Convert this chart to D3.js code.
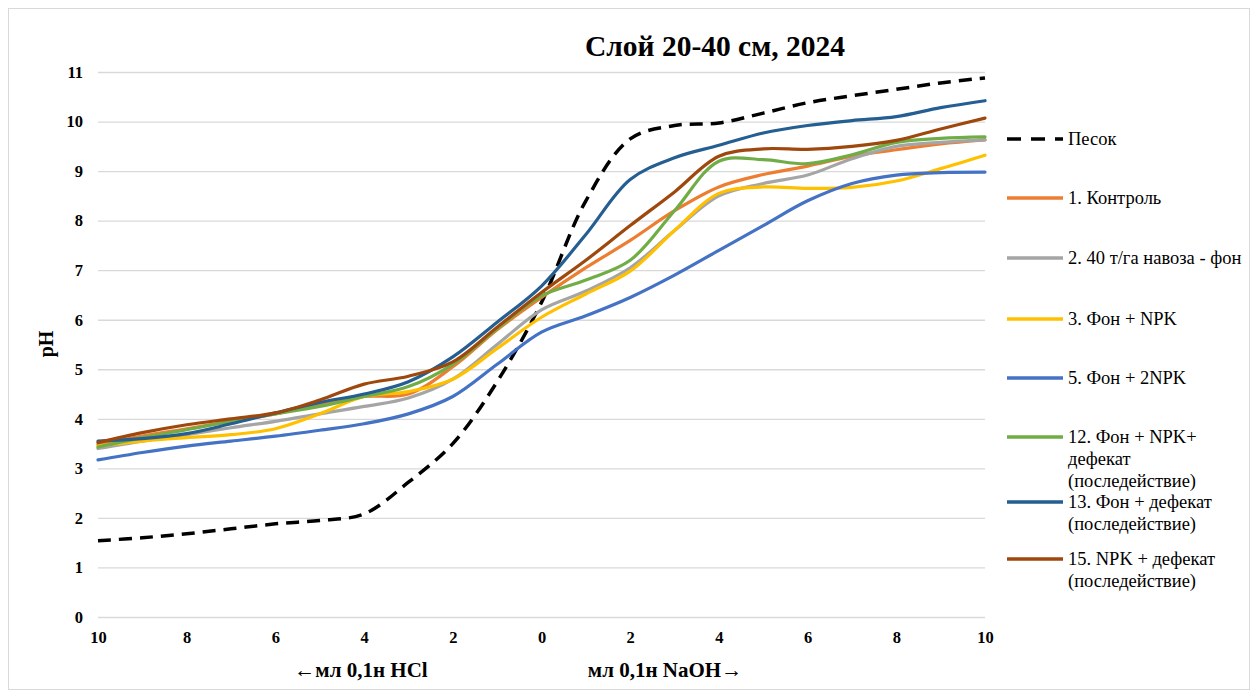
<!DOCTYPE html>
<html><head><meta charset="utf-8">
<script src="https://cdn.jsdelivr.net/npm/d3@7"></script>
<style>
body{margin:0;background:#fff;}
svg{display:block;font-family:"Liberation Serif","Times New Roman",serif;}
svg text{font-family:"Liberation Serif","Times New Roman",serif;}
</style></head>
<body><svg id="c" width="1259" height="695"></svg>
<script>
const xValues = [-10,-9,-8,-7,-6,-5,-4,-3,-2,-1,0,1,2,3,4,5,6,7,8,9,10];
const xTickLabels = ["10","8","6","4","2","0","2","4","6","8","10"];
const yTicks = [0,1,2,3,4,5,6,7,8,9,10,11];
const seriesNames = ["Песок","1. Контроль","2. 40 т/га навоза - фон","3. Фон + NPK","5. Фон + 2NPK","12. Фон + NPK+ дефекат (последействие)","13. Фон + дефекат (последействие)","15. NPK + дефекат (последействие)"];
const sand    = [1.54,1.6,1.68,1.78,1.88,1.95,2.08,2.72,3.5,4.75,6.35,8.4,9.65,9.92,9.97,10.17,10.38,10.52,10.65,10.78,10.88];
const control = [3.48,3.65,3.8,3.95,4.1,4.3,4.45,4.5,5.05,5.8,6.45,7.05,7.6,8.2,8.68,8.93,9.1,9.3,9.43,9.55,9.63];
const manure  = [3.4,3.55,3.68,3.82,3.95,4.1,4.25,4.42,4.8,5.5,6.2,6.58,7.05,7.8,8.5,8.75,8.92,9.25,9.5,9.58,9.63];
const fonNPK  = [3.45,3.55,3.62,3.68,3.8,4.1,4.45,4.55,4.8,5.42,6.05,6.52,6.98,7.8,8.55,8.68,8.65,8.67,8.8,9.05,9.32];
const fon2NPK = [3.17,3.32,3.45,3.55,3.65,3.77,3.9,4.1,4.45,5.1,5.75,6.08,6.45,6.9,7.4,7.9,8.4,8.75,8.92,8.97,8.98];
const fonNPKdef = [3.43,3.62,3.78,3.95,4.1,4.25,4.45,4.65,5.1,5.82,6.48,6.8,7.2,8.2,9.2,9.23,9.15,9.33,9.58,9.66,9.69];
const fonDef  = [3.55,3.6,3.7,3.9,4.12,4.33,4.5,4.75,5.25,5.95,6.68,7.72,8.83,9.27,9.52,9.77,9.92,10.02,10.1,10.28,10.42];
const npkDef  = [3.52,3.72,3.88,4.0,4.12,4.38,4.7,4.86,5.15,5.85,6.55,7.2,7.9,8.58,9.3,9.45,9.44,9.5,9.62,9.85,10.07];
const seriesValues = [sand,control,manure,fonNPK,fon2NPK,fonNPKdef,fonDef,npkDef];
const colors = ["#000000","#ED7D31","#A5A5A5","#FFC000","#4472C4","#70AD47","#255E91","#9E480E"];

const FONT = "Liberation Serif";
const svg = d3.select("#c");
svg.append("rect").attr("x",8.5).attr("y",8.5).attr("width",1241).attr("height",681)
  .attr("fill","#fff").attr("stroke","#d9d9d9");

const x = d3.scaleLinear().domain([-10,10]).range([98,985]);
const y = d3.scaleLinear().domain([0,11]).range([617,72]);

// gridlines
svg.append("g").selectAll("line").data(yTicks).join("line")
  .attr("x1",98).attr("x2",985).attr("y1",d=>y(d)+0.5).attr("y2",d=>y(d)+0.5)
  .attr("stroke","#d9d9d9").attr("stroke-width",1.3);

// y axis labels
const yAxis = d3.axisLeft(y).tickValues(yTicks).tickSize(0).tickPadding(0).tickFormat(d3.format("d"));
const gy = svg.append("g").attr("transform","translate(83,0)").call(yAxis);
gy.select(".domain").remove();
gy.attr("font-family",FONT);
gy.selectAll("text").attr("font-size",16.5).attr("font-weight","bold").attr("font-family",FONT).attr("fill","#000");

// x axis labels
const xTickVals = d3.range(-10,11,2);
const xAxis = d3.axisBottom(x).tickValues(xTickVals).tickSize(0).tickPadding(0)
  .tickFormat((d,i)=>xTickLabels[i]);
const gx = svg.append("g").attr("transform","translate(0,631)").call(xAxis);
gx.select(".domain").remove();
gx.attr("font-family",FONT);
gx.selectAll("text").attr("font-size",16.5).attr("font-weight","bold").attr("font-family",FONT).attr("fill","#000");

// axis titles
svg.append("text").attr("x",361).attr("y",677).attr("text-anchor","middle").attr("font-family",FONT)
  .attr("font-size",21).attr("font-weight","bold").text("←мл 0,1н HCl");
svg.append("text").attr("x",665).attr("y",677).attr("text-anchor","middle").attr("font-family",FONT)
  .attr("font-size",21).attr("font-weight","bold").text("мл 0,1н NaOH→");
svg.append("text").attr("transform","translate(53,344) rotate(-90)").attr("text-anchor","middle").attr("font-family",FONT)
  .attr("font-size",20).attr("font-weight","bold").text("pH");
svg.append("text").attr("x",715).attr("y",56).attr("text-anchor","middle").attr("font-family",FONT)
  .attr("font-size",29.5).attr("font-weight","bold").text("Слой 20-40 см, 2024");

// lines
const line = d3.line().x((d,i)=>x(xValues[i])).y(d=>y(d)).curve(d3.curveCatmullRom.alpha(0.5));
seriesValues.forEach((vals,k)=>{
  svg.append("path").datum(vals).attr("d",line).attr("fill","none")
    .attr("stroke",colors[k]).attr("stroke-width",k===0?3.5:3.2)
    .attr("stroke-linecap",k===0?"butt":"round")
    .attr("stroke-dasharray",k===0?"13,8":null);
});

// legend
const legendY = [139,198,258,319,378,437,502,559];
const legendLines = [["Песок"],["1. Контроль"],["2. 40 т/га навоза - фон"],["3. Фон + NPK"],["5. Фон + 2NPK"],
  ["12. Фон + NPK+","дефекат","(последействие)"],["13. Фон + дефекат","(последействие)"],["15. NPK + дефекат","(последействие)"]];
const lg = svg.append("g");
seriesNames.forEach((name,k)=>{
  const ly = legendY[k];
  lg.append("line").attr("x1",1007).attr("x2",1063).attr("y1",ly).attr("y2",ly)
    .attr("stroke",colors[k]).attr("stroke-width",3.5)
    .attr("stroke-dasharray",k===0?"14,10":null);
  const t = lg.append("text").attr("x",1068).attr("y",ly+6).attr("font-size",18.5)
    .attr("font-family",FONT).attr("fill","#000");
  legendLines[k].forEach((s,j)=>{
    t.append("tspan").attr("x",1068).attr("dy",j===0?0:22).text(s);
  });
});
</script>
</body></html>
